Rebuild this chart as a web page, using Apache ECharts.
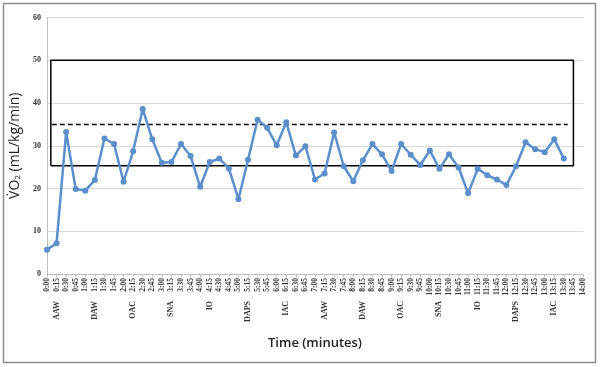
<!DOCTYPE html>
<html><head><meta charset="utf-8">
<script src="https://cdn.jsdelivr.net/npm/echarts@6/dist/echarts.min.js"></script>
<style>html,body{margin:0;padding:0;background:#fff}#c{width:600px;height:367px}</style>
</head><body><div id="c"></div>
<script>
var times = ['0:00','0:15','0:30','0:45','1:00','1:15','1:30','1:45','2:00','2:15','2:30','2:45','3:00','3:15','3:30','3:45','4:00','4:15','4:30','4:45','5:00','5:15','5:30','5:45','6:00','6:15','6:30','6:45','7:00','7:15','7:30','7:45','8:00','8:15','8:30','8:45','9:00','9:15','9:30','9:45','10:00','10:15','10:30','10:45','11:00','11:15','11:30','11:45','12:00','12:15','12:30','12:45','13:00','13:15','13:30','13:45','14:00'];
var vo2 = [5.7,7.2,33.2,19.9,19.5,22.0,31.7,30.4,21.6,28.7,38.6,31.5,26.0,26.2,30.4,27.6,20.4,26.2,27.0,24.7,17.5,26.7,36.1,34.2,30.1,35.5,27.7,29.9,22.1,23.5,33.1,25.2,21.7,26.6,30.4,28.0,24.1,30.4,27.9,25.5,28.9,24.6,28.0,24.9,18.9,24.6,23.1,22.1,20.8,25.2,30.8,29.2,28.5,31.5,27.0];
var groupNames = ['AAW','DAW','OAC','SNA','IO','DAPS','IAC','AAW','DAW','OAC','SNA','IO','DAPS','IAC'];
var groupTimes = ['0:15','1:15','2:15','3:15','4:15','5:15','6:15','7:15','8:15','9:15','10:15','11:15','12:15','13:15'];
var yTicks = [0,10,20,30,40,50,60];
var zoneLow = 25.3, zoneHigh = 50, zoneStart = 0.4, zoneEnd = 55;
var targetLine = 35, targetStart = 0.5, targetEnd = 54.4;

var chart = echarts.init(document.getElementById('c'));
var serif = '"Liberation Serif","Times New Roman",serif';
chart.setOption({
  animation:false,
  grid:{left:47,right:17,top:17.5,bottom:93},
  graphic:[{type:'rect',shape:{x:3.5,y:3.5,width:592,height:359},style:{fill:'none',stroke:'#8c8c8c',lineWidth:1.5},silent:true}],
  xAxis:[{
    type:'category',data:times,boundaryGap:false,
    axisLine:{lineStyle:{color:'#bfbfbf'}},
    axisTick:{show:true,interval:0,length:3,lineStyle:{color:'#bfbfbf'}},
    axisLabel:{interval:0,rotate:90,fontFamily:serif,fontWeight:'bold',fontSize:7.5,color:'#333',margin:4},
    splitLine:{show:false}
  },{
    type:'category',data:times,boundaryGap:false,position:'bottom',
    axisLine:{show:false},axisTick:{show:false},
    axisLabel:{interval:0,rotate:90,fontFamily:serif,fontWeight:'bold',fontSize:8,color:'#333',margin:27,
      formatter:function(v){var i=groupTimes.indexOf(v);return i>=0?groupNames[i]:'';}},
    name:'Time (minutes)',nameLocation:'middle',nameGap:63,
    nameTextStyle:{fontFamily:'"Open Sans",sans-serif',fontWeight:600,fontSize:13,color:'#222'}
  },{
    type:'value',min:0,max:56,show:false
  }],
  yAxis:{
    type:'value',min:0,max:60,interval:10,
    axisLine:{show:true,lineStyle:{color:'#bfbfbf'}},
    axisTick:{show:false},
    splitLine:{lineStyle:{color:'#d9d9d9'}},
    axisLabel:{fontFamily:serif,fontWeight:'bold',fontSize:8,color:'#333',margin:6,
      formatter:function(v){return yTicks.indexOf(v)>=0?String(v):'';}},
    name:'{a|V\u0307O}{s|2}{a| (mL/kg/min)}',nameLocation:'middle',nameGap:20,
    nameTextStyle:{rich:{
      a:{fontFamily:'"Open Sans",sans-serif',fontSize:14,color:'#222',fontWeight:500},
      s:{fontFamily:'"Open Sans",sans-serif',fontSize:8,color:'#222',verticalAlign:'bottom',padding:[6,0,0,0]}
    }}
  },
  series:[{
    type:'line',data:vo2,xAxisIndex:0,
    symbol:'circle',symbolSize:6,
    lineStyle:{color:'#5b8fcb',width:2.5},
    itemStyle:{color:'#5b8fcb'},z:3
  },{
    type:'line',xAxisIndex:2,symbol:'none',
    data:[[zoneStart,zoneLow],[zoneEnd,zoneLow],[zoneEnd,zoneHigh],[zoneStart,zoneHigh],[zoneStart,zoneLow]],
    lineStyle:{color:'#000',width:1.5},z:2
  },{
    type:'line',xAxisIndex:2,symbol:'none',
    data:[[targetStart,targetLine],[targetEnd,targetLine]],
    lineStyle:{color:'#000',width:1.5,type:[5,3]},z:2
  }]
});
</script></body></html>
